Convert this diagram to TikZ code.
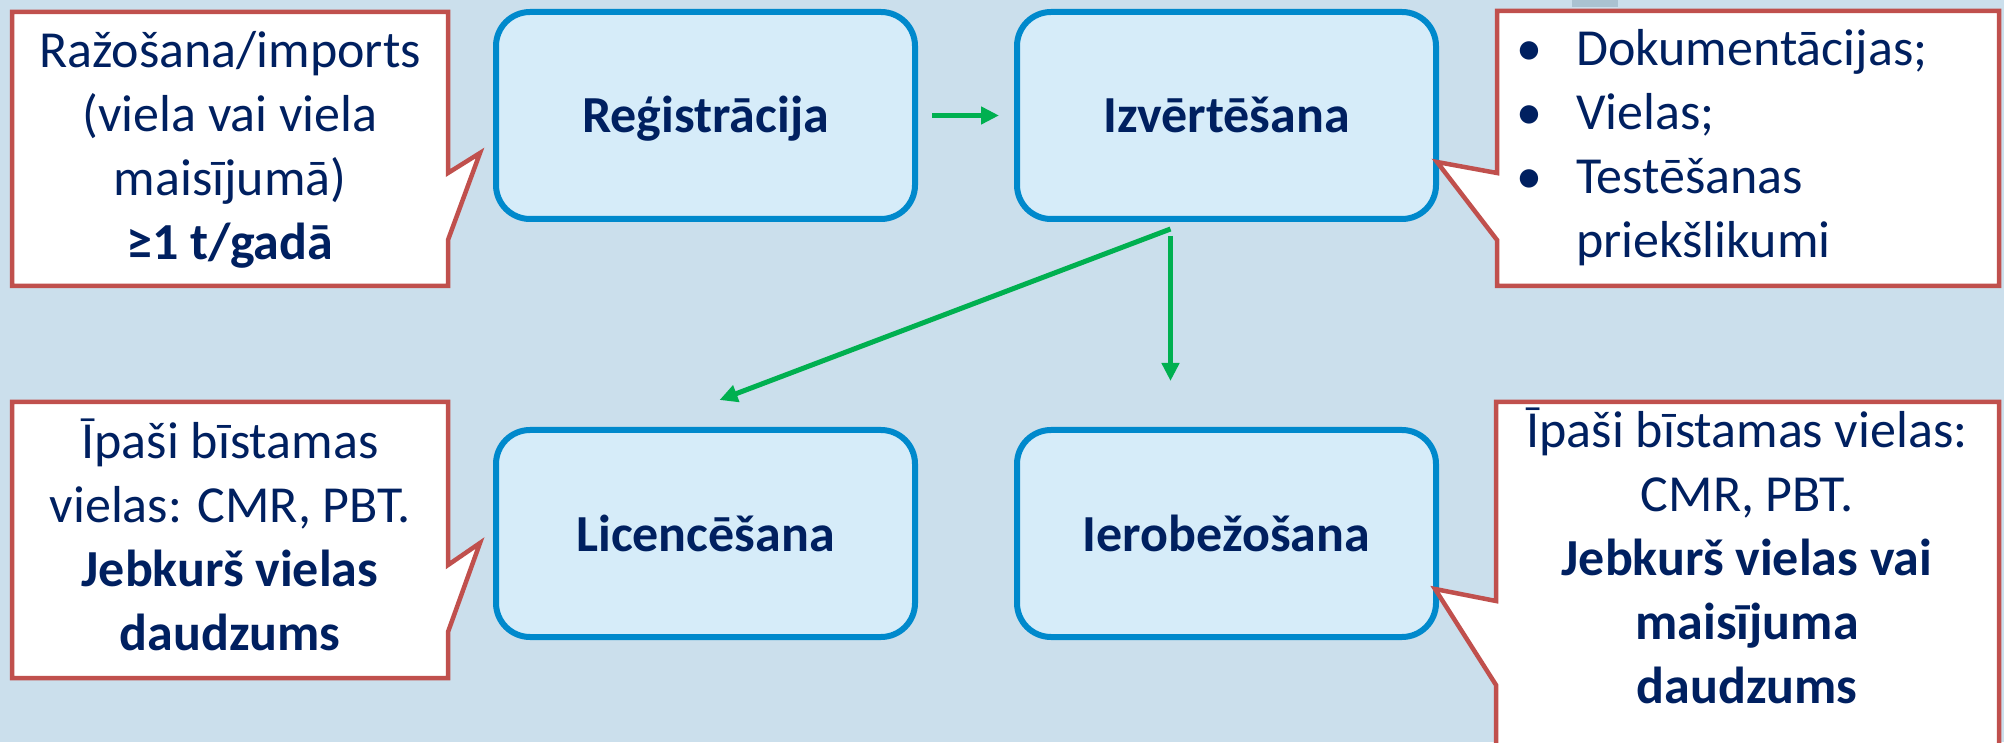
\documentclass[tikz,border=0pt]{standalone}
\usepackage{fontspec}
\setmainfont{Carlito}
\usepackage{tikz}
\usetikzlibrary{positioning}
\usetikzlibrary{arrows.meta}

\definecolor{slidebg}{RGB}{203,223,236}
\definecolor{boxfill}{RGB}{214,236,249}
\definecolor{boxline}{RGB}{0,137,204}
\definecolor{noteline}{RGB}{192,80,77}
\definecolor{navy}{RGB}{0,32,96}
\definecolor{arrowgreen}{RGB}{0,176,80}
\definecolor{stripe}{RGB}{170,194,209}

\begin{document}
\begin{tikzpicture}[x=1pt, y=1pt,
        stage/.style={rectangle, rounded corners=34pt, draw=boxline, fill=boxfill, line width=6pt, minimum width=419pt, minimum height=207pt, text height=45pt, text depth=10pt, text=navy, font=\fontsize{52}{64}\selectfont\bfseries},
        callout/.style={draw=noteline, fill=white, line width=4.5pt, line join=miter},
        notetext/.style={align=center, text=navy, inner sep=0pt, font=\fontsize{52}{64}\selectfont},
        flow/.style={draw=arrowgreen, line width=5pt, -{Triangle[length=18pt, width=17pt]}}
      ]
        \useasboundingbox (0,0) rectangle (2004,742);
        \clip (0,0) rectangle (2004,742);
        \fill[slidebg] (0,0) rectangle (2004,742);
        \fill[stripe] (1572,735) rectangle (1618,742);

        \node[stage]  (reg)                          at (705.5,626.5) {Reģistrācija};
        \node[stage]  (izv)    [right=96pt of reg]                    {Izvērtēšana};
        \node[stage]  (lic)    [below=205pt of reg]                   {Licencēšana};
        \node[stage]  (ierob)  [right=96pt of lic]                    {Ierobežošana};

        \coordinate (regtip)   at (480,589);
        \coordinate (izvtip)   at (1437,580);
        \coordinate (lictip)   at (480,199);
        \coordinate (ierobtip) at (1435,153);

        \draw[callout] (12,730) -- (448,730) -- (448,569) -- (regtip) -- (448,502) -- (448,456) -- (12,456) -- cycle;
        \draw[callout] (1497,731) -- (1999,731) -- (1999,456) -- (1497,456) -- (1497,502) -- (izvtip) -- (1497,569) -- cycle;
        \draw[callout] (12,340) -- (448,340) -- (448,177) -- (lictip) -- (448,110) -- (448,64) -- (12,64) -- cycle;
        \draw[callout] (1496,340) -- (1999,340) -- (1999,-20) -- (1496,-20) -- (1496,57) -- (ierobtip) -- (1496,141) -- cycle;

        \node[notetext] (regnote)   at (230,592)  {Ražošana/imports\\(viela vai viela\\maisījumā)\\\textbf{≥1 t/gadā}};
        \node[notetext, align=left, anchor=west] (izvnote) at (1516,594)
            {\makebox[60pt][l]{•}Dokumentācijas;\\\makebox[60pt][l]{•}Vielas;\\\makebox[60pt][l]{•}Testēšanas\\\makebox[60pt][l]{}priekšlikumi};
        \node[notetext] (licnote)   at (230,207)  {Īpaši bīstamas\\vielas: CMR, PBT.\\\textbf{Jebkurš vielas}\\\textbf{daudzums}};
        \node[notetext] (ierobnote) at (1747,186) {Īpaši bīstamas vielas:\\CMR, PBT.\\\textbf{Jebkurš vielas vai}\\\textbf{maisījuma}\\\textbf{daudzums}};

        \coordinate (split) at ([xshift=-56pt, yshift=-7pt]izv.south);

        \draw[flow, shorten <=14pt, shorten >=15pt] (reg) -- (izv);
        \draw[flow] (split) -- ([xshift=14pt, yshift=27pt]lic.north);
        \draw[flow] ([yshift=-7pt]split) -- ++(0,-145);
      \end{tikzpicture}
\end{document}
